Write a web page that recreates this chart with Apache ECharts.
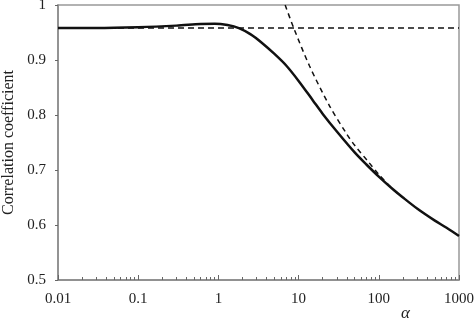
<!DOCTYPE html>
<html><head><meta charset="utf-8">
<script src="https://cdn.jsdelivr.net/npm/echarts@6/dist/echarts.min.js"></script>
<style>html,body{margin:0;padding:0;background:#fff}#c{width:474px;height:320px}</style>
</head><body><div id="c"></div>
<script>
// Solid curve: correlation coefficient vs alpha
const solidAlpha = [0.01,0.03,0.1,0.3,0.6,0.9,1.3,1.8,2.5,3.5,5,7,10,15,20,30,50,70,100,150,200,300,500,700,1000];
const solidR     = [0.958,0.958,0.9595,0.9625,0.9655,0.966,0.9635,0.958,0.947,0.931,0.911,0.89,0.862,0.827,0.802,0.77,0.732,0.71,0.688,0.665,0.65,0.63,0.608,0.595,0.58];
// Dashed asymptote (large alpha)
const asymAlpha = [6.8,8.7,13.7,24,40,50,75,100,150,200];
const asymR     = [1.0,0.958,0.889,0.818,0.765,0.745,0.714,0.692,0.665,0.65];
// Dashed horizontal level (small alpha)
const levelAlpha = [0.01,1000];
const levelR = [0.958,0.958];
const xMinorTicks = [];
[0.01,0.1,1,10,100].forEach(d=>{for(let k=2;k<=9;k++) xMinorTicks.push(+(d*k).toPrecision(3));});

const chart = echarts.init(document.getElementById('c'), null, {renderer:'canvas'});
const font = 'Liberation Serif';
const zip = (a,b)=>a.map((v,i)=>[v,b[i]]);
chart.setOption({
  animation:false,
  grid:{left:58,right:15,top:5,bottom:40,show:true,borderColor:'#999',borderWidth:1.5,outerBoundsMode:'none',containLabel:false},
  xAxis:[{
    type:'log', logBase:10, min:0.01, max:1000,
    axisLine:{lineStyle:{color:'#888',width:1.5}},
    axisTick:{show:true,inside:true,length:5,lineStyle:{color:'#666'}},
    axisLabel:{color:'#222',fontFamily:font,fontSize:15,margin:12,hideOverlap:false,
      formatter:v=>String(+v.toPrecision(3))},
    splitLine:{show:false}
  },{
    type:'log', logBase:10, min:0.01, max:1000, position:'bottom',
    axisLine:{show:false},
    axisTick:{show:true,inside:true,length:3,customValues:xMinorTicks,lineStyle:{color:'#666'}},
    axisLabel:{show:false},
    splitLine:{show:false}
  }],
  yAxis:{
    type:'value', min:0.5, max:1, interval:0.1,
    name:'Correlation coefficient', nameLocation:'middle', nameGap:41,
    nameTextStyle:{color:'#222',fontFamily:font,fontSize:16},
    axisLine:{show:true,lineStyle:{color:'#888',width:1.5}},
    axisTick:{show:true,length:3,lineStyle:{color:'#666'}},
    axisLabel:{color:'#222',fontFamily:font,fontSize:15,margin:12},
    splitLine:{show:false}
  },
  graphic:[{type:'text',left:401,top:305,style:{text:'α',font:'italic 17px "Liberation Serif"',fill:'#222'}}],
  series:[
    {type:'line',data:zip(levelAlpha,levelR),symbol:'none',lineStyle:{color:'#111',width:1.5,type:[6,4]}},
    {type:'line',data:zip(asymAlpha,asymR),symbol:'none',smooth:0.3,lineStyle:{color:'#111',width:1.5,type:[5,4]}},
    {type:'line',data:zip(solidAlpha,solidR),symbol:'none',smooth:0.3,lineStyle:{color:'#111',width:2.5}}
  ]
});
</script></body></html>
